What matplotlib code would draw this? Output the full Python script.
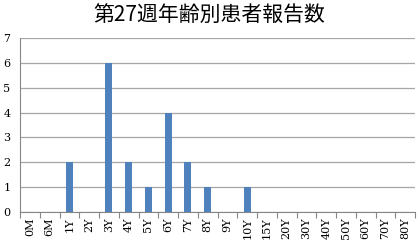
import matplotlib
matplotlib.use("Agg")
import matplotlib.pyplot as plt
import numpy as np

categories = ["0M", "6M", "1Y", "2Y", "3Y", "4Y", "5Y", "6Y", "7Y", "8Y",
              "9Y", "10Y", "15Y", "20Y", "30Y", "40Y", "50Y", "60Y", "70Y", "80Y"]
counts = [0, 0, 2, 0, 6, 2, 1, 4, 2, 1, 0, 1, 0, 0, 0, 0, 0, 0, 0, 0]
yticks = [0, 1, 2, 3, 4, 5, 6, 7]
title = "第27週年齢別患者報告数"

fig = plt.figure(figsize=(4.18, 2.5), dpi=100)
ax = fig.add_axes([0.048, 0.152, 0.945, 0.696])

x = np.arange(len(categories))
ax.bar(x, counts, width=0.35, color="#4F81BD", zorder=3)

ax.set_xlim(-0.5, len(categories) - 0.5)
ax.set_ylim(0, 7)
ax.set_yticks(yticks)
ax.set_yticklabels([str(v) for v in yticks], family="DejaVu Serif", fontsize=8)
ax.yaxis.grid(True, color="#A6A6A6", lw=0.9, zorder=0)
ax.tick_params(axis="y", length=0, pad=7)

ax.set_xticks(x)
ax.set_xticklabels(categories, rotation=90, family="DejaVu Serif", fontsize=8)
ax.set_xticks(np.arange(-0.5, len(categories)), minor=True)
ax.tick_params(axis="x", which="major", length=0, pad=4)
ax.tick_params(axis="x", which="minor", length=4, color="#868686", width=0.8)

for s in ["top", "right"]:
    ax.spines[s].set_visible(False)
ax.spines["left"].set_color("#868686")
ax.spines["bottom"].set_color("#868686")
ax.spines["left"].set_linewidth(0.8)
ax.spines["bottom"].set_linewidth(0.8)

fig.text(0.5, 0.94, title, ha="center", va="center", fontsize=15,
         family=["Noto Sans CJK JP", "DejaVu Sans"])

fig.savefig("out.png", dpi=100)
